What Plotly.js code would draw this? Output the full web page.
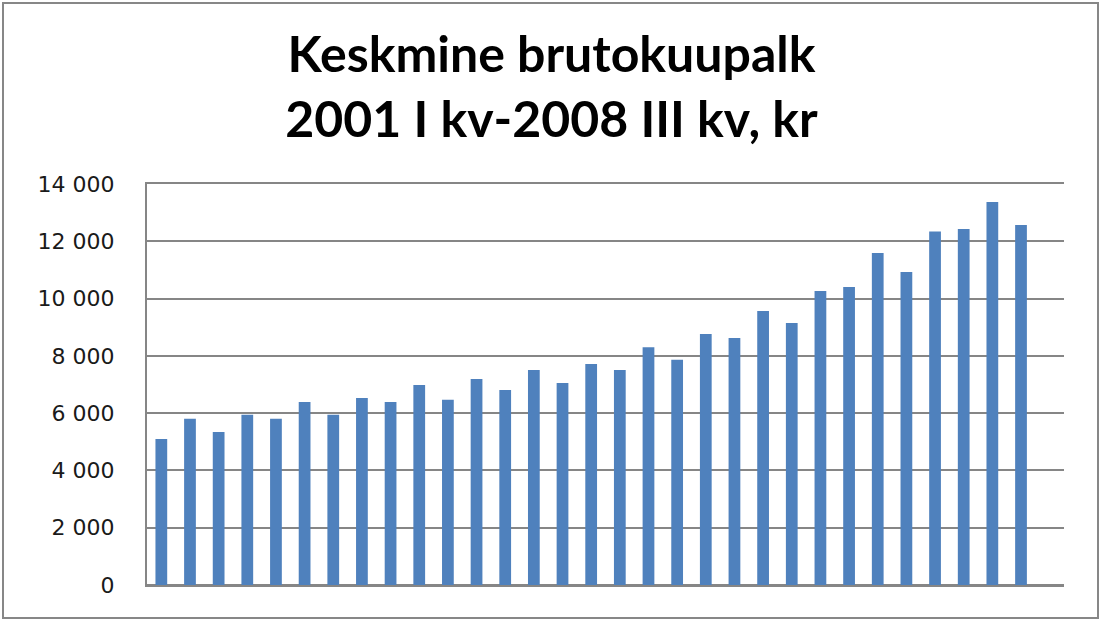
<!DOCTYPE html>
<html>
<head>
<meta charset="utf-8">
<script src="https://cdn.plot.ly/plotly-3.0.1.min.js"></script>
<style>
  body { margin: 0; background: #fff; }
  #wrap { position: relative; width: 1103px; height: 630px; }
  #palk { position: absolute; left: 0; top: 0; width: 1103px; height: 630px; }
  #raam { position: absolute; left: 2px; top: 2px; width: 1097px; height: 617px;
          border: 2.5px solid #878787; box-sizing: border-box; pointer-events: none; }
</style>
</head>
<body>
<div id="wrap">
  <div id="palk"></div>
  <div id="raam"></div>
</div>
<script>
/* aastad ja kvartalid */
var aastad = [2001, 2002, 2003, 2004, 2005, 2006, 2007, 2008];
var kvartalid = ['I', 'II', 'III', 'IV'];

/* keskmine brutokuupalk, kr (2001 I kv - 2008 III kv) */
var palk = [5100, 5800, 5340, 5940, 5800, 6390, 5940, 6530,
            6390, 6980, 6470, 7190, 6810, 7510, 7050, 7720,
            7510, 8300, 7860, 8760, 8620, 9570, 9150, 10260,
            10400, 11590, 10930, 12340, 12430, 13370, 12570];

/* y-telje jaotised */
var yTicks = [0, 2000, 4000, 6000, 8000, 10000, 12000, 14000];

var kategooriad = [];
for (var a = 0; a < aastad.length; a++) {
  for (var k = 0; k < kvartalid.length; k++) {
    if (kategooriad.length < palk.length) {
      kategooriad.push(aastad[a] + ' ' + kvartalid[k] + ' kv');
    }
  }
}

var trace1 = {
  x: kategooriad,
  y: palk,
  type: 'bar',
  marker: { color: '#4f81bd' },
  hoverinfo: 'x+y'
};

var layout = {
  width: 1103,
  height: 630,
  margin: { l: 147, r: 39, t: 184, b: 45 },
  paper_bgcolor: '#ffffff',
  plot_bgcolor: '#ffffff',
  separators: ', ',
  showlegend: false,
  bargap: 0.59,
  title: {
    text: 'Keskmine brutokuupalk<br>2001 I kv-2008 III kv, kr',
    font: { family: 'Lato, "Open Sans", sans-serif', size: 50, color: '#000000', weight: 'bold' },
    x: 0.5,
    xanchor: 'center',
    y: 0.885,
    yanchor: 'middle'
  },
  xaxis: {
    type: 'category',
    range: [-0.5, 31.5],
    showticklabels: false,
    showgrid: false,
    zeroline: false,
    showline: true,
    mirror: true,
    linecolor: '#868686',
    linewidth: 2,
    ticks: ''
  },
  yaxis: {
    range: [0, 14000],
    tickvals: yTicks,
    tickformat: ',d',
    showgrid: true,
    gridcolor: '#868686',
    gridwidth: 2,
    zeroline: true,
    zerolinecolor: '#868686',
    zerolinewidth: 2,
    showline: true,
    linecolor: '#868686',
    linewidth: 2,
    ticks: '',
    ticklabelstandoff: 26,
    tickfont: { family: '"DejaVu Sans", sans-serif', size: 22, color: '#1a1a1a' }
  }
};

Plotly.newPlot('palk', [trace1], layout, { displayModeBar: false, staticPlot: true });
</script>
</body>
</html>
